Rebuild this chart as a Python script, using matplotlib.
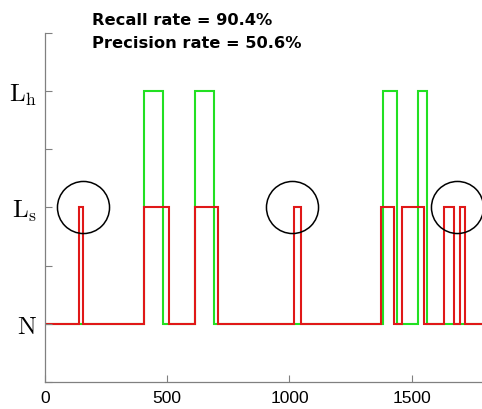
import numpy as np
import matplotlib.pyplot as plt

plt.rcParams['mathtext.fontset'] = 'cm'

# signal levels
N, LS, LH = 1, 3, 5

# detected (red) step signal: edges and levels between them
red_edges = [0, 138, 154, 403, 509, 615, 706, 1018, 1045, 1373, 1427,
             1462, 1551, 1633, 1672, 1698, 1718, 1800]
red_levels = [N, LS, N, LS, N, LS, N, LS, N, LS, N, LS, N, LS, N, LS, N]

# ground truth (green) step signal
green_edges = [0, 403, 482, 612, 690, 1384, 1439, 1527, 1561, 1800]
green_levels = [N, LH, N, LH, N, LH, N, LH, N]

# false alarms circled
circle_x = [155, 1009, 1685]
circle_y = [LS, LS, LS]

ytick_pos = [0, 1, 2, 3, 4, 5, 6]
ytick_lab = ['', r'$\mathrm{N}$', '', r'$\mathrm{L_s}$', '', r'$\mathrm{L_h}$', '']
xtick_pos = [0, 500, 1000, 1500]

fig = plt.figure(figsize=(4.82, 4.10), dpi=100)
ax = fig.add_axes([0.0934, 0.066, 0.913, 0.851])

ax.stairs(green_levels, green_edges, baseline=None, color='#22e022', lw=1.5)
ax.stairs(red_levels, red_edges, baseline=None, color='#e01818', lw=1.5)
ax.plot(circle_x, circle_y, 'o', ms=37.5, mfc='none', mec='black', mew=1.1)

ax.set_xlim(0, 1800)
ax.set_ylim(0, 6)
ax.set_xticks(xtick_pos)
ax.set_xticklabels([str(v) for v in xtick_pos], fontsize=12.5, family='Liberation Sans')
ax.set_yticks(ytick_pos)
ax.set_yticklabels(ytick_lab, fontsize=18)
ax.tick_params(direction='in', length=5, color='#808080', width=0.8)
ax.tick_params(axis='y', pad=6)
ax.tick_params(axis='x', pad=6)
for s in ['top', 'right']:
    ax.spines[s].set_visible(False)
for s in ['left', 'bottom']:
    ax.spines[s].set_color('#808080')
    ax.spines[s].set_linewidth(0.9)

fig.text(0.191, 0.951, 'Recall rate = 90.4%', fontsize=11.7, fontweight='bold',
         family='DejaVu Sans', va='center')
fig.text(0.191, 0.895, 'Precision rate = 50.6%', fontsize=11.7, fontweight='bold',
         family='DejaVu Sans', va='center')

fig.savefig('out.png', dpi=100)
